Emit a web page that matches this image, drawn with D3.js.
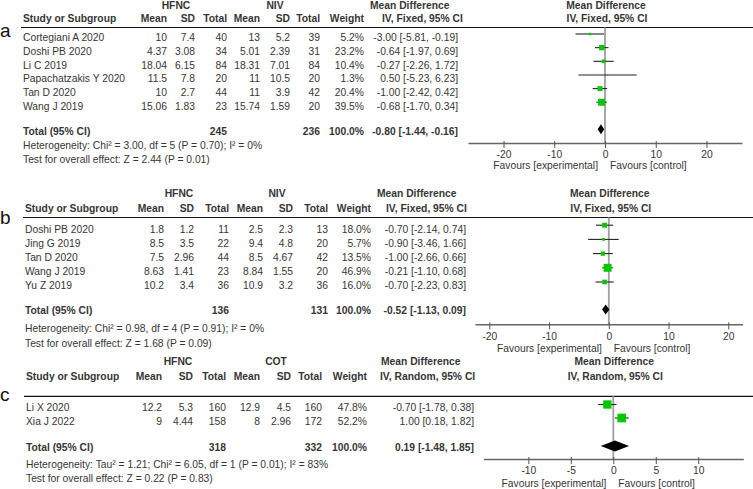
<!DOCTYPE html>
<html>
<head>
<meta charset="utf-8">
<script src="https://cdn.jsdelivr.net/npm/d3@7"></script>
<style>
html,body{margin:0;padding:0;background:#fff;}
svg{display:block;}
text{font-family:"Liberation Sans",Arial,sans-serif;fill:#363636;}
</style>
</head>
<body>
<svg id="chart" width="753" height="489"></svg>
<script>
// ---------------- DATA ----------------
// Panel a: HFNC vs NIV
const studiesA = ["Cortegiani A 2020","Doshi PB 2020","Li C 2019","Papachatzakis Y 2020","Tan D 2020","Wang J 2019"];
const expA = [[10,7.4,40],[4.37,3.08,34],[18.04,6.15,84],[11.5,7.8,20],[10,2.7,44],[15.06,1.83,23]];
const ctlA = [[13,5.2,39],[5.01,2.39,31],[18.31,7.01,84],[11,10.5,20],[11,3.9,42],[15.74,1.59,20]];
const weightsA = [5.2,23.2,10.4,1.3,20.4,39.5];
const effectsA = [[-3.00,-5.81,-0.19],[-0.64,-1.97,0.69],[-0.27,-2.26,1.72],[0.50,-5.23,6.23],[-1.00,-2.42,0.42],[-0.68,-1.70,0.34]];
const totalsA = [245,236,100.0];
const overallA = [-0.80,-1.44,-0.16];
const statsA = ["Heterogeneity: Chi\u00b2 = 3.00, df = 5 (P = 0.70); I\u00b2 = 0%","Test for overall effect: Z = 2.44 (P = 0.01)"];
const ticksA = [-20,-10,0,10,20];

// Panel b: HFNC vs NIV
const studiesB = ["Doshi PB 2020","Jing G 2019","Tan D 2020","Wang J 2019","Yu Z 2019"];
const expB = [[1.8,1.2,11],[8.5,3.5,22],[7.5,2.96,44],[8.63,1.41,23],[10.2,3.4,36]];
const ctlB = [[2.5,2.3,13],[9.4,4.8,20],[8.5,4.67,42],[8.84,1.55,20],[10.9,3.2,36]];
const weightsB = [18.0,5.7,13.5,46.9,16.0];
const effectsB = [[-0.70,-2.14,0.74],[-0.90,-3.46,1.66],[-1.00,-2.66,0.66],[-0.21,-1.10,0.68],[-0.70,-2.23,0.83]];
const totalsB = [136,131,100.0];
const overallB = [-0.52,-1.13,0.09];
const statsB = ["Heterogeneity: Chi\u00b2 = 0.98, df = 4 (P = 0.91); I\u00b2 = 0%","Test for overall effect: Z = 1.68 (P = 0.09)"];
const ticksB = [-20,-10,0,10,20];

// Panel c: HFNC vs COT
const studiesC = ["Li X 2020","Xia J 2022"];
const expC = [[12.2,5.3,160],[9,4.44,158]];
const ctlC = [[12.9,4.5,160],[8,2.96,172]];
const weightsC = [47.8,52.2];
const effectsC = [[-0.70,-1.78,0.38],[1.00,0.18,1.82]];
const totalsC = [318,332,100.0];
const overallC = [0.19,-1.48,1.85];
const statsC = ["Heterogeneity: Tau\u00b2 = 1.21; Chi\u00b2 = 6.05, df = 1 (P = 0.01); I\u00b2 = 83%","Test for overall effect: Z = 0.22 (P = 0.83)"];
const ticksC = [-10,-5,0,5,10];

const groupLabels = ["HFNC","NIV","NIV","COT"];
const methods = ["IV, Fixed, 95% CI","IV, Fixed, 95% CI","IV, Random, 95% CI"];

// ---------------- LAYOUT ----------------
const FS = 10.3;
const panels = [
  {key:"a", studies:studiesA, exp:expA, ctl:ctlA, weights:weightsA, effects:effectsA, totals:totalsA, overall:overallA, stats:statsA, ticks:ticksA, ctlLabel:groupLabels[1], method:methods[0],
   L:{label:36.7, row1:9, row2:21.5, line:27.5, row0:41.3, step:13.65, total:135.3, het:149.3, test:162.5, axisY:143, fav:168.5, markOff:7.3, diaOff:6, diaH:10,
      study:23, cols:[167,195,227,260,290,320,364], ciR:458, hfncC:176, ctlC:275, md1:370, iv1:382, domain:[-27,27], range:[468,742], boxK:1.1}},
  {key:"b", studies:studiesB, exp:expB, ctl:ctlB, weights:weightsB, effects:effectsB, totals:totalsB, overall:overallB, stats:statsB, ticks:ticksB, ctlLabel:groupLabels[2], method:methods[1],
   L:{label:224, row1:197, row2:212, line:217.5, row0:232.6, step:14.2, total:313.6, het:332, test:347, axisY:324.3, fav:352, markOff:7.4, diaOff:4, diaH:10,
      study:25, cols:[164,194,229,263,293,328,371], ciR:466, hfncC:179, ctlC:277, md1:377, iv1:386, domain:[-22.4,22.4], range:[475,742.6], boxK:1.16}},
  {key:"c", studies:studiesC, exp:expC, ctl:ctlC, weights:weightsC, effects:effectsC, totals:totalsC, overall:overallC, stats:statsC, ticks:ticksC, ctlLabel:groupLabels[3], method:methods[2],
   L:{label:400.7, row1:365.3, row2:380.3, line:396.3, row0:411, step:13.5, total:451, het:467.6, test:482, axisY:459, fav:487, markOff:6.5, diaOff:5, diaH:11,
      study:26, cols:[162,193,226,260,291,322,367], ciR:474, hfncC:178, ctlC:276, md1:381, iv1:380, domain:[-15.3,15.3], range:[483.3,743.3], boxK:1.2}}
];

const svg = d3.select("#chart");
const fmt2 = v => v.toFixed(2);
const ciText = e => `${fmt2(e[0])} [${fmt2(e[1])}, ${fmt2(e[2])}]`;

function txt(g, x, y, s, opt = {}) {
  return g.append("text").attr("x", x).attr("y", y)
    .attr("font-size", opt.size || FS)
    .attr("font-weight", opt.bold ? "bold" : "normal")
    .attr("text-anchor", opt.anchor || "start")
    .style("fill", opt.fill || null)
    .text(s);
}

panels.forEach(p => {
  const L = p.L;
  const g = svg.append("g");
  const x = d3.scaleLinear().domain(L.domain).range(L.range);
  const box = d3.scaleSqrt().domain([0, 100]).range([0, L.boxK * 10]);
  const x0 = x(0);

  // panel letter
  txt(g, 0, L.label, p.key, {size: 19, fill: "#111"});

  // header row 1
  txt(g, L.hfncC, L.row1, groupLabels[0], {bold: true, anchor: "middle"});
  txt(g, L.ctlC, L.row1, p.ctlLabel, {bold: true, anchor: "middle"});
  txt(g, L.md1, L.row1, "Mean Difference", {bold: true});
  txt(g, x0 + 1, L.row1, "Mean Difference", {bold: true, anchor: "middle"});

  // header row 2
  txt(g, L.study, L.row2, "Study or Subgroup", {bold: true});
  ["Mean","SD","Total","Mean","SD","Total","Weight"].forEach((h, i) =>
    txt(g, L.cols[i], L.row2, h, {bold: true, anchor: "end"}));
  txt(g, L.iv1, L.row2, p.method, {bold: true});
  txt(g, x0 + 2, L.row2, p.method, {bold: true, anchor: "middle"});

  // header rule
  g.append("line").attr("x1", L.study - 2).attr("x2", 753)
    .attr("y1", L.line).attr("y2", L.line).attr("stroke", "#111").attr("stroke-width", 1.2);

  // zero line
  g.append("line").attr("x1", x0).attr("x2", x0)
    .attr("y1", L.line).attr("y2", L.axisY).attr("stroke", "#a0a0a0").attr("stroke-width", 1.8);

  // study rows
  p.studies.forEach((s, i) => {
    const y = L.row0 + i * L.step;
    txt(g, L.study, y, s);
    const vals = [p.exp[i][0], p.exp[i][1], p.exp[i][2], p.ctl[i][0], p.ctl[i][1], p.ctl[i][2]];
    vals.forEach((v, j) => txt(g, L.cols[j], y, String(v), {anchor: "end"}));
    txt(g, L.cols[6], y, p.weights[i].toFixed(1) + "%", {anchor: "end"});
    txt(g, L.ciR, y, ciText(p.effects[i]), {anchor: "end"});

    const my = y - L.markOff;
    const e = p.effects[i];
    g.append("line").attr("x1", x(e[1])).attr("x2", x(e[2]))
      .attr("y1", my).attr("y2", my).attr("stroke", "#222").attr("stroke-width", 1.1);
    const side = box(p.weights[i]);
    g.append("rect").attr("x", x(e[0]) - side / 2).attr("y", my - side / 2)
      .attr("width", side).attr("height", side).attr("fill", "#00c800");
  });

  // total row
  txt(g, L.study, L.total, "Total (95% CI)", {bold: true});
  txt(g, L.cols[2], L.total, String(p.totals[0]), {bold: true, anchor: "end"});
  txt(g, L.cols[5], L.total, String(p.totals[1]), {bold: true, anchor: "end"});
  txt(g, L.cols[6], L.total, p.totals[2].toFixed(1) + "%", {bold: true, anchor: "end"});
  txt(g, L.ciR, L.total, ciText(p.overall), {bold: true, anchor: "end"});

  const dy = L.total - L.diaOff;
  const o = p.overall;
  g.append("path")
    .attr("d", `M${x(o[1])},${dy} L${x(o[0])},${dy - L.diaH / 2} L${x(o[2])},${dy} L${x(o[0])},${dy + L.diaH / 2} Z`)
    .attr("fill", "#000");

  // stats
  txt(g, L.study, L.het, p.stats[0]);
  txt(g, L.study, L.test, p.stats[1]);

  // axis
  const ax = g.append("g").attr("transform", `translate(0,${L.axisY})`)
    .call(d3.axisBottom(x).tickValues(p.ticks).tickSizeInner(5).tickSizeOuter(0).tickFormat(d => String(d)));
  ax.select(".domain").attr("stroke", "#666").attr("stroke-width", 1.5);
  ax.selectAll(".tick line").attr("stroke", "#555").attr("y1", -2);
  ax.selectAll(".tick text").attr("font-size", FS)
    .attr("font-family", "'Liberation Sans',Arial,sans-serif").style("fill", "#363636");

  txt(g, x0 - 7, L.fav, "Favours [experimental]", {anchor: "end"});
  txt(g, x0 + 5, L.fav, "Favours [control]");
});
</script>
</body>
</html>
